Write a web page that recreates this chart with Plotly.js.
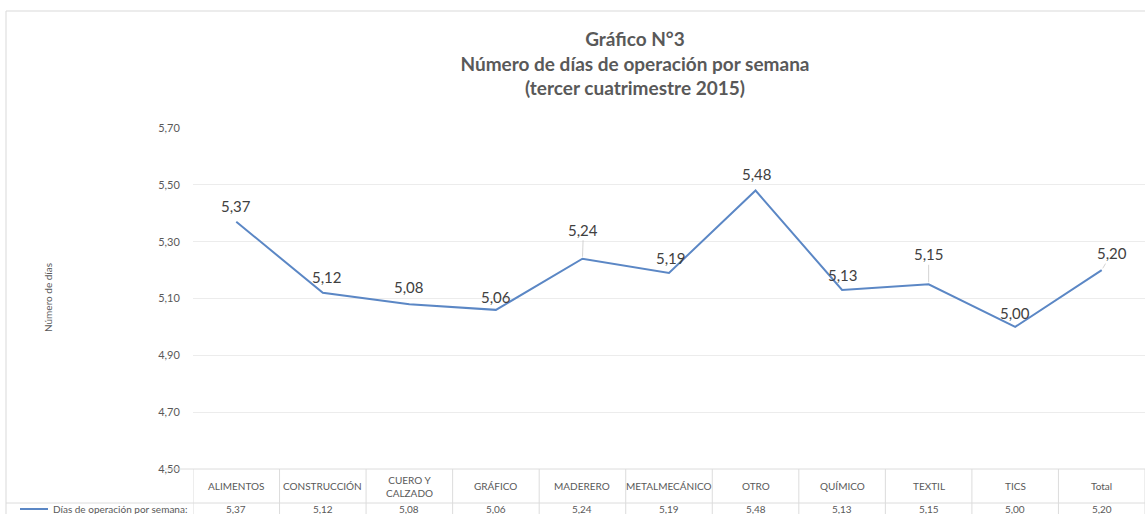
<!DOCTYPE html>
<html>
<head>
<meta charset="utf-8">
<script src="https://cdn.plot.ly/plotly-3.0.1.min.js"></script>
<style>html,body{margin:0;padding:0;background:#fff;}#chart{width:1145px;height:514px;}</style>
</head>
<body>
<div id="chart"></div>
<script>
// ---- data ----
const categories = ["ALIMENTOS","CONSTRUCCIÓN","CUERO Y CALZADO","GRÁFICO","MADERERO","METALMECÁNICO","OTRO","QUÍMICO","TEXTIL","TICS","Total"];
const categoryLabels = ["ALIMENTOS","CONSTRUCCIÓN","CUERO Y<br>CALZADO","GRÁFICO","MADERERO","METALMECÁNICO","OTRO","QUÍMICO","TEXTIL","TICS","Total"];
const diasOperacion = [5.37,5.12,5.08,5.06,5.24,5.19,5.48,5.13,5.15,5.00,5.20];
const seriesName = "Días de operación por semana:";
const yTicks = [4.5,4.7,4.9,5.1,5.3,5.5,5.7];

// ---- label placement (styling, pixels) ----
const labelDx = [0, 4, 0, 0, 1, 2, 1, 1, 0, 0, 10];
const labelDy = [-16, -16, -17, -13, -29, -15, -17, -15, -30, -14, -17];
const labelLeader = [false, false, false, false, true, false, false, false, true, false, true];

const fmt = v => v.toFixed(2).replace('.', ',');
const FONT = "Lato, 'Open Sans', sans-serif";
const grid = "#ececec";
const tableLine = "#dcdcdc";
const lineColor = "#5b87c5";

const plotL = 193, plotR = 1145, plotT = 128, plotB = 469;
const pw = plotR - plotL, ph = plotB - plotT;
const px = x => (x - plotL) / pw;
const py = y => (plotB - y) / ph;

const trace = {
  x: categories,
  y: diasOperacion,
  type: "scatter",
  mode: "lines",
  line: {color: lineColor, width: 2},
  hoverinfo: "skip",
  showlegend: false
};

const shapes = [];
const annotations = [];

// data labels
categories.forEach((c, i) => {
  annotations.push({
    xref: "x", yref: "y", x: c, y: diasOperacion[i], text: fmt(diasOperacion[i]),
    showarrow: true, ax: labelDx[i], ay: labelDy[i], arrowhead: 0, arrowwidth: 0.8, standoff: 2,
    arrowcolor: labelLeader[i] ? "#c8c8c8" : "rgba(0,0,0,0)",
    font: {family: FONT, size: 15, color: "#404040"}, xanchor: "center", yanchor: "middle"
  });
});

// table: vertical lines at category boundaries
for (let i = 0; i <= categories.length; i++) {
  shapes.push({type: "line", xref: "x", yref: "paper", x0: i - 0.5, x1: i - 0.5, y0: 0, y1: py(520),
               line: {color: tableLine, width: 1}});
}
shapes.push({type: "line", xref: "paper", yref: "paper", x0: px(165), x1: 1, y0: 0, y1: 0, line: {color: tableLine, width: 1}});
shapes.push({type: "line", xref: "paper", yref: "paper", x0: px(6), x1: 1, y0: py(503), y1: py(503), line: {color: tableLine, width: 1}});
// chart border (left & top)
shapes.push({type: "line", xref: "paper", yref: "paper", x0: px(6), x1: px(6), y0: py(11), y1: py(520), line: {color: "#d9d9d9", width: 1}});
shapes.push({type: "line", xref: "paper", yref: "paper", x0: px(6), x1: 1.01, y0: py(11), y1: py(11), line: {color: "#d9d9d9", width: 1}});
// legend key in table
shapes.push({type: "line", xref: "paper", yref: "paper", x0: px(20), x1: px(48), y0: py(509), y1: py(509), line: {color: lineColor, width: 2}});

categories.forEach((c, i) => {
  annotations.push({xref: "x", yref: "paper", x: c, y: py(486), text: categoryLabels[i], showarrow: false,
    font: {family: FONT, size: 10, color: "#595959"}, yanchor: "middle"});
  annotations.push({xref: "x", yref: "paper", x: c, y: py(509), text: fmt(diasOperacion[i]), showarrow: false,
    font: {family: FONT, size: 10, color: "#595959"}, yanchor: "middle"});
});
annotations.push({xref: "paper", yref: "paper", x: px(189), y: py(509), text: seriesName, showarrow: false,
  xanchor: "right", yanchor: "middle", font: {family: FONT, size: 10, color: "#595959"}});
annotations.push({xref: "paper", yref: "paper", x: px(48), y: py(298), text: "Número de días", showarrow: false,
  textangle: -90, xanchor: "center", yanchor: "middle", font: {family: FONT, size: 10, color: "#595959"}});

const layout = {
  width: 1145, height: 514,
  margin: {l: plotL, r: 1145 - plotR, t: plotT, b: 514 - plotB},
  paper_bgcolor: "#fff", plot_bgcolor: "#fff",
  separators: ",.",
  title: {
    text: "<b>Gráfico N°3</b><br><b>Número de días de operación por semana</b><br><b>(tercer cuatrimestre 2015)</b>",
    font: {family: FONT, size: 19, color: "#595959"},
    x: 635 / 1145, xanchor: "center", xref: "container",
    y: 1 - 46 / 514, yanchor: "top", yref: "container"
  },
  xaxis: {
    type: "category", range: [-0.5, categories.length - 0.5],
    showticklabels: false, showgrid: false, zeroline: false, showline: false, ticks: ""
  },
  yaxis: {
    range: [4.5, 5.7], tickvals: yTicks, ticktext: yTicks.map(fmt),
    showgrid: true, gridcolor: grid, gridwidth: 1, zeroline: false, showline: false,
    ticks: "outside", ticklen: 10, tickcolor: "rgba(0,0,0,0)",
    tickfont: {family: FONT, size: 11, color: "#595959"}
  },
  shapes: shapes,
  annotations: annotations
};

Plotly.newPlot("chart", [trace], layout, {displayModeBar: false, staticPlot: true});
</script>
</body>
</html>
